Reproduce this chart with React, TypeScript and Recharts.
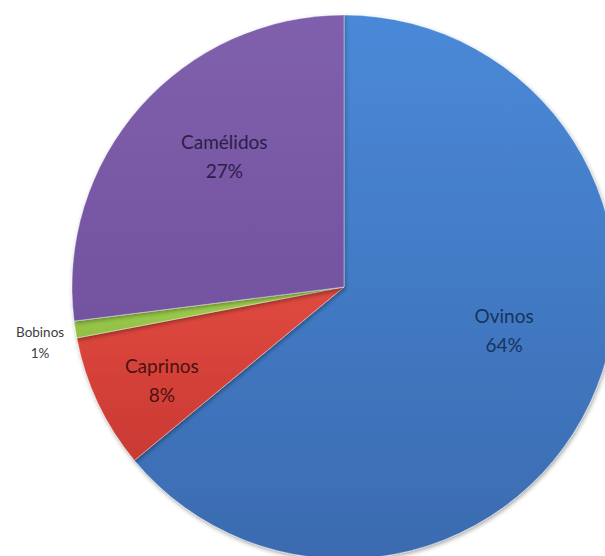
import { PieChart, Pie, Cell } from 'recharts'

const categories = ['Ovinos', 'Caprinos', 'Bobinos', 'Camélidos']
const shares = [64, 8, 1, 27]

const data = categories.map((name, i) => ({ name, value: shares[i] }))

// look of each slice: gradient stops, label colour, label distance (fraction of radius) and angle nudge
const sliceStyle: Record<string, { top: string; bottom: string; text: string; r: number; turn: number; size: number; gap: number }> = {
  Ovinos: { top: '#4a89d8', bottom: '#3a6bb0', text: '#17335e', r: 0.61, turn: 10, size: 19, gap: 29 },
  Caprinos: { top: '#e0493f', bottom: '#c93a33', text: '#4a1210', r: 0.753, turn: 2, size: 19, gap: 29 },
  Bobinos: { top: '#a4d153', bottom: '#8fc043', text: '#404040', r: 1.136, turn: 1.4, size: 13.5, gap: 21 },
  'Camélidos': { top: '#8060ad', bottom: '#7353a0', text: '#2c1d4a', r: 0.65, turn: -6, size: 19, gap: 29 },
}

const RADIAN = Math.PI / 180

function renderLabel(props: any) {
  const { cx, cy, midAngle, outerRadius, percent, name } = props
  const s = sliceStyle[name]
  const r = outerRadius * s.r
  const a = (midAngle + s.turn) * RADIAN
  const x = cx + r * Math.cos(-a)
  const y = cy + r * Math.sin(-a)
  return (
    <text
      x={x}
      y={y}
      textAnchor="middle"
      fill={s.text}
      fontSize={s.size}
      fontFamily="Lato, 'Open Sans', sans-serif"
    >
      <tspan x={x} dy={-s.gap / 2 + s.size * 0.35}>{name}</tspan>
      <tspan x={x} dy={s.gap}>{Math.round(percent * 100)}%</tspan>
    </text>
  )
}

export default function App() {
  return (
    <div style={{ position: 'absolute', left: 0, top: 0, width: 605, height: 556, background: '#fff', overflow: 'hidden' }}>
      <PieChart width={605} height={556} margin={{ top: 0, right: 0, bottom: 0, left: 0 }}>
        <defs>
          {categories.map((name, i) => (
            <linearGradient key={name} id={`grad${i}`} x1="0" y1="0" x2="0" y2="1">
              <stop offset="0%" stopColor={sliceStyle[name].top} />
              <stop offset="100%" stopColor={sliceStyle[name].bottom} />
            </linearGradient>
          ))}
          <filter id="shadow" x="-10%" y="-10%" width="120%" height="120%">
            <feDropShadow dx="1" dy="2" stdDeviation="2" floodColor="#000" floodOpacity="0.35" />
          </filter>
        </defs>
        <Pie
          data={data}
          dataKey="value"
          nameKey="name"
          cx={344}
          cy={287}
          outerRadius={272}
          startAngle={90}
          endAngle={-270}
          stroke="rgba(255,255,255,0.35)"
          strokeWidth={1}
          label={renderLabel}
          labelLine={false}
          isAnimationActive={false}
          style={{ filter: 'url(#shadow)' }}
        >
          {data.map((d, i) => (
            <Cell key={d.name} fill={`url(#grad${i})`} />
          ))}
        </Pie>
      </PieChart>
    </div>
  )
}
